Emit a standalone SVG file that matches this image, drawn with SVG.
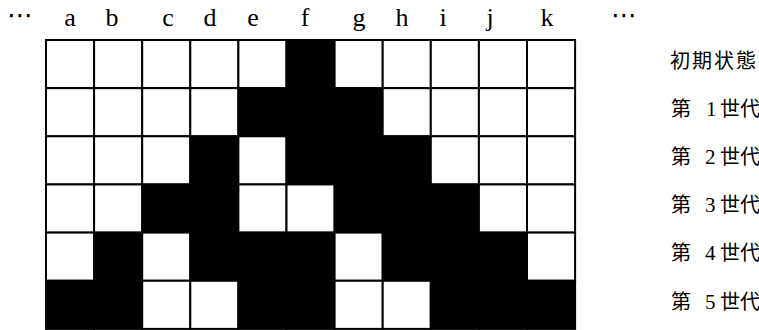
<svg xmlns="http://www.w3.org/2000/svg" width="759" height="330" viewBox="0 0 759 330">
<style>
.w{fill:#fff;stroke:#000;stroke-width:2}
.b{fill:#000;stroke:#000;stroke-width:2}
.col{font-family:"Liberation Serif","DejaVu Serif",serif;font-size:26px;fill:#000;text-anchor:middle}
.dots{font-family:"DejaVu Serif","DejaVu Sans",serif;font-size:26px;fill:#000;text-anchor:middle}
.lab{font-family:"Noto Sans CJK JP","Noto Sans CJK SC",sans-serif;font-size:20px;fill:#000}
.num{font-family:"Liberation Serif",serif;font-size:21px}
</style>
<rect width="759" height="330" fill="#fff"/>
<g id="header">
<text class="dots" x="20" y="24">⋯</text>
<text class="col" x="70" y="26">a</text>
<text class="col" x="112" y="26">b</text>
<text class="col" x="168" y="26">c</text>
<text class="col" x="210" y="26">d</text>
<text class="col" x="253" y="26">e</text>
<text class="col" x="305" y="26">f</text>
<text class="col" x="359" y="26">g</text>
<text class="col" x="402" y="26">h</text>
<text class="col" x="443" y="26">i</text>
<text class="col" x="490" y="26">j</text>
<text class="col" x="547" y="26">k</text>
<text class="dots" x="624" y="24">⋯</text>
</g>
<g id="row0">
<rect class="w" x="46" y="40" width="48.1" height="48.15"/>
<rect class="w" x="94.1" y="40" width="48.1" height="48.15"/>
<rect class="w" x="142.2" y="40" width="48.1" height="48.15"/>
<rect class="w" x="190.3" y="40" width="48.1" height="48.15"/>
<rect class="w" x="238.4" y="40" width="48.1" height="48.15"/>
<rect class="b" x="286.5" y="40" width="48.1" height="48.15"/>
<rect class="w" x="334.6" y="40" width="48.1" height="48.15"/>
<rect class="w" x="382.7" y="40" width="48.1" height="48.15"/>
<rect class="w" x="430.8" y="40" width="48.1" height="48.15"/>
<rect class="w" x="478.9" y="40" width="48.1" height="48.15"/>
<rect class="w" x="527" y="40" width="48.1" height="48.15"/>
<text class="lab" x="670" y="68" letter-spacing="2">初期状態</text>
</g>
<g id="row1">
<rect class="w" x="46" y="88.15" width="48.1" height="48.15"/>
<rect class="w" x="94.1" y="88.15" width="48.1" height="48.15"/>
<rect class="w" x="142.2" y="88.15" width="48.1" height="48.15"/>
<rect class="w" x="190.3" y="88.15" width="48.1" height="48.15"/>
<rect class="b" x="238.4" y="88.15" width="48.1" height="48.15"/>
<rect class="b" x="286.5" y="88.15" width="48.1" height="48.15"/>
<rect class="b" x="334.6" y="88.15" width="48.1" height="48.15"/>
<rect class="w" x="382.7" y="88.15" width="48.1" height="48.15"/>
<rect class="w" x="430.8" y="88.15" width="48.1" height="48.15"/>
<rect class="w" x="478.9" y="88.15" width="48.1" height="48.15"/>
<rect class="w" x="527" y="88.15" width="48.1" height="48.15"/>
<text class="lab" x="671" y="116">第<tspan class="num" x="706">1</tspan><tspan x="720">世代</tspan></text>
</g>
<g id="row2">
<rect class="w" x="46" y="136.3" width="48.1" height="48.15"/>
<rect class="w" x="94.1" y="136.3" width="48.1" height="48.15"/>
<rect class="w" x="142.2" y="136.3" width="48.1" height="48.15"/>
<rect class="b" x="190.3" y="136.3" width="48.1" height="48.15"/>
<rect class="w" x="238.4" y="136.3" width="48.1" height="48.15"/>
<rect class="b" x="286.5" y="136.3" width="48.1" height="48.15"/>
<rect class="b" x="334.6" y="136.3" width="48.1" height="48.15"/>
<rect class="b" x="382.7" y="136.3" width="48.1" height="48.15"/>
<rect class="w" x="430.8" y="136.3" width="48.1" height="48.15"/>
<rect class="w" x="478.9" y="136.3" width="48.1" height="48.15"/>
<rect class="w" x="527" y="136.3" width="48.1" height="48.15"/>
<text class="lab" x="671" y="164">第<tspan class="num" x="705">2</tspan><tspan x="720">世代</tspan></text>
</g>
<g id="row3">
<rect class="w" x="46" y="184.45" width="48.1" height="48.15"/>
<rect class="w" x="94.1" y="184.45" width="48.1" height="48.15"/>
<rect class="b" x="142.2" y="184.45" width="48.1" height="48.15"/>
<rect class="b" x="190.3" y="184.45" width="48.1" height="48.15"/>
<rect class="w" x="238.4" y="184.45" width="48.1" height="48.15"/>
<rect class="w" x="286.5" y="184.45" width="48.1" height="48.15"/>
<rect class="b" x="334.6" y="184.45" width="48.1" height="48.15"/>
<rect class="b" x="382.7" y="184.45" width="48.1" height="48.15"/>
<rect class="b" x="430.8" y="184.45" width="48.1" height="48.15"/>
<rect class="w" x="478.9" y="184.45" width="48.1" height="48.15"/>
<rect class="w" x="527" y="184.45" width="48.1" height="48.15"/>
<text class="lab" x="671" y="212">第<tspan class="num" x="705">3</tspan><tspan x="720">世代</tspan></text>
</g>
<g id="row4">
<rect class="w" x="46" y="232.6" width="48.1" height="48.15"/>
<rect class="b" x="94.1" y="232.6" width="48.1" height="48.15"/>
<rect class="w" x="142.2" y="232.6" width="48.1" height="48.15"/>
<rect class="b" x="190.3" y="232.6" width="48.1" height="48.15"/>
<rect class="b" x="238.4" y="232.6" width="48.1" height="48.15"/>
<rect class="b" x="286.5" y="232.6" width="48.1" height="48.15"/>
<rect class="w" x="334.6" y="232.6" width="48.1" height="48.15"/>
<rect class="b" x="382.7" y="232.6" width="48.1" height="48.15"/>
<rect class="b" x="430.8" y="232.6" width="48.1" height="48.15"/>
<rect class="b" x="478.9" y="232.6" width="48.1" height="48.15"/>
<rect class="w" x="527" y="232.6" width="48.1" height="48.15"/>
<text class="lab" x="671" y="260">第<tspan class="num" x="705">4</tspan><tspan x="720">世代</tspan></text>
</g>
<g id="row5">
<rect class="b" x="46" y="280.75" width="48.1" height="48.15"/>
<rect class="b" x="94.1" y="280.75" width="48.1" height="48.15"/>
<rect class="w" x="142.2" y="280.75" width="48.1" height="48.15"/>
<rect class="w" x="190.3" y="280.75" width="48.1" height="48.15"/>
<rect class="b" x="238.4" y="280.75" width="48.1" height="48.15"/>
<rect class="b" x="286.5" y="280.75" width="48.1" height="48.15"/>
<rect class="w" x="334.6" y="280.75" width="48.1" height="48.15"/>
<rect class="w" x="382.7" y="280.75" width="48.1" height="48.15"/>
<rect class="b" x="430.8" y="280.75" width="48.1" height="48.15"/>
<rect class="b" x="478.9" y="280.75" width="48.1" height="48.15"/>
<rect class="b" x="527" y="280.75" width="48.1" height="48.15"/>
<text class="lab" x="671" y="309">第<tspan class="num" x="705">5</tspan><tspan x="720">世代</tspan></text>
</g>
<g id="connectors"/>
</svg>
